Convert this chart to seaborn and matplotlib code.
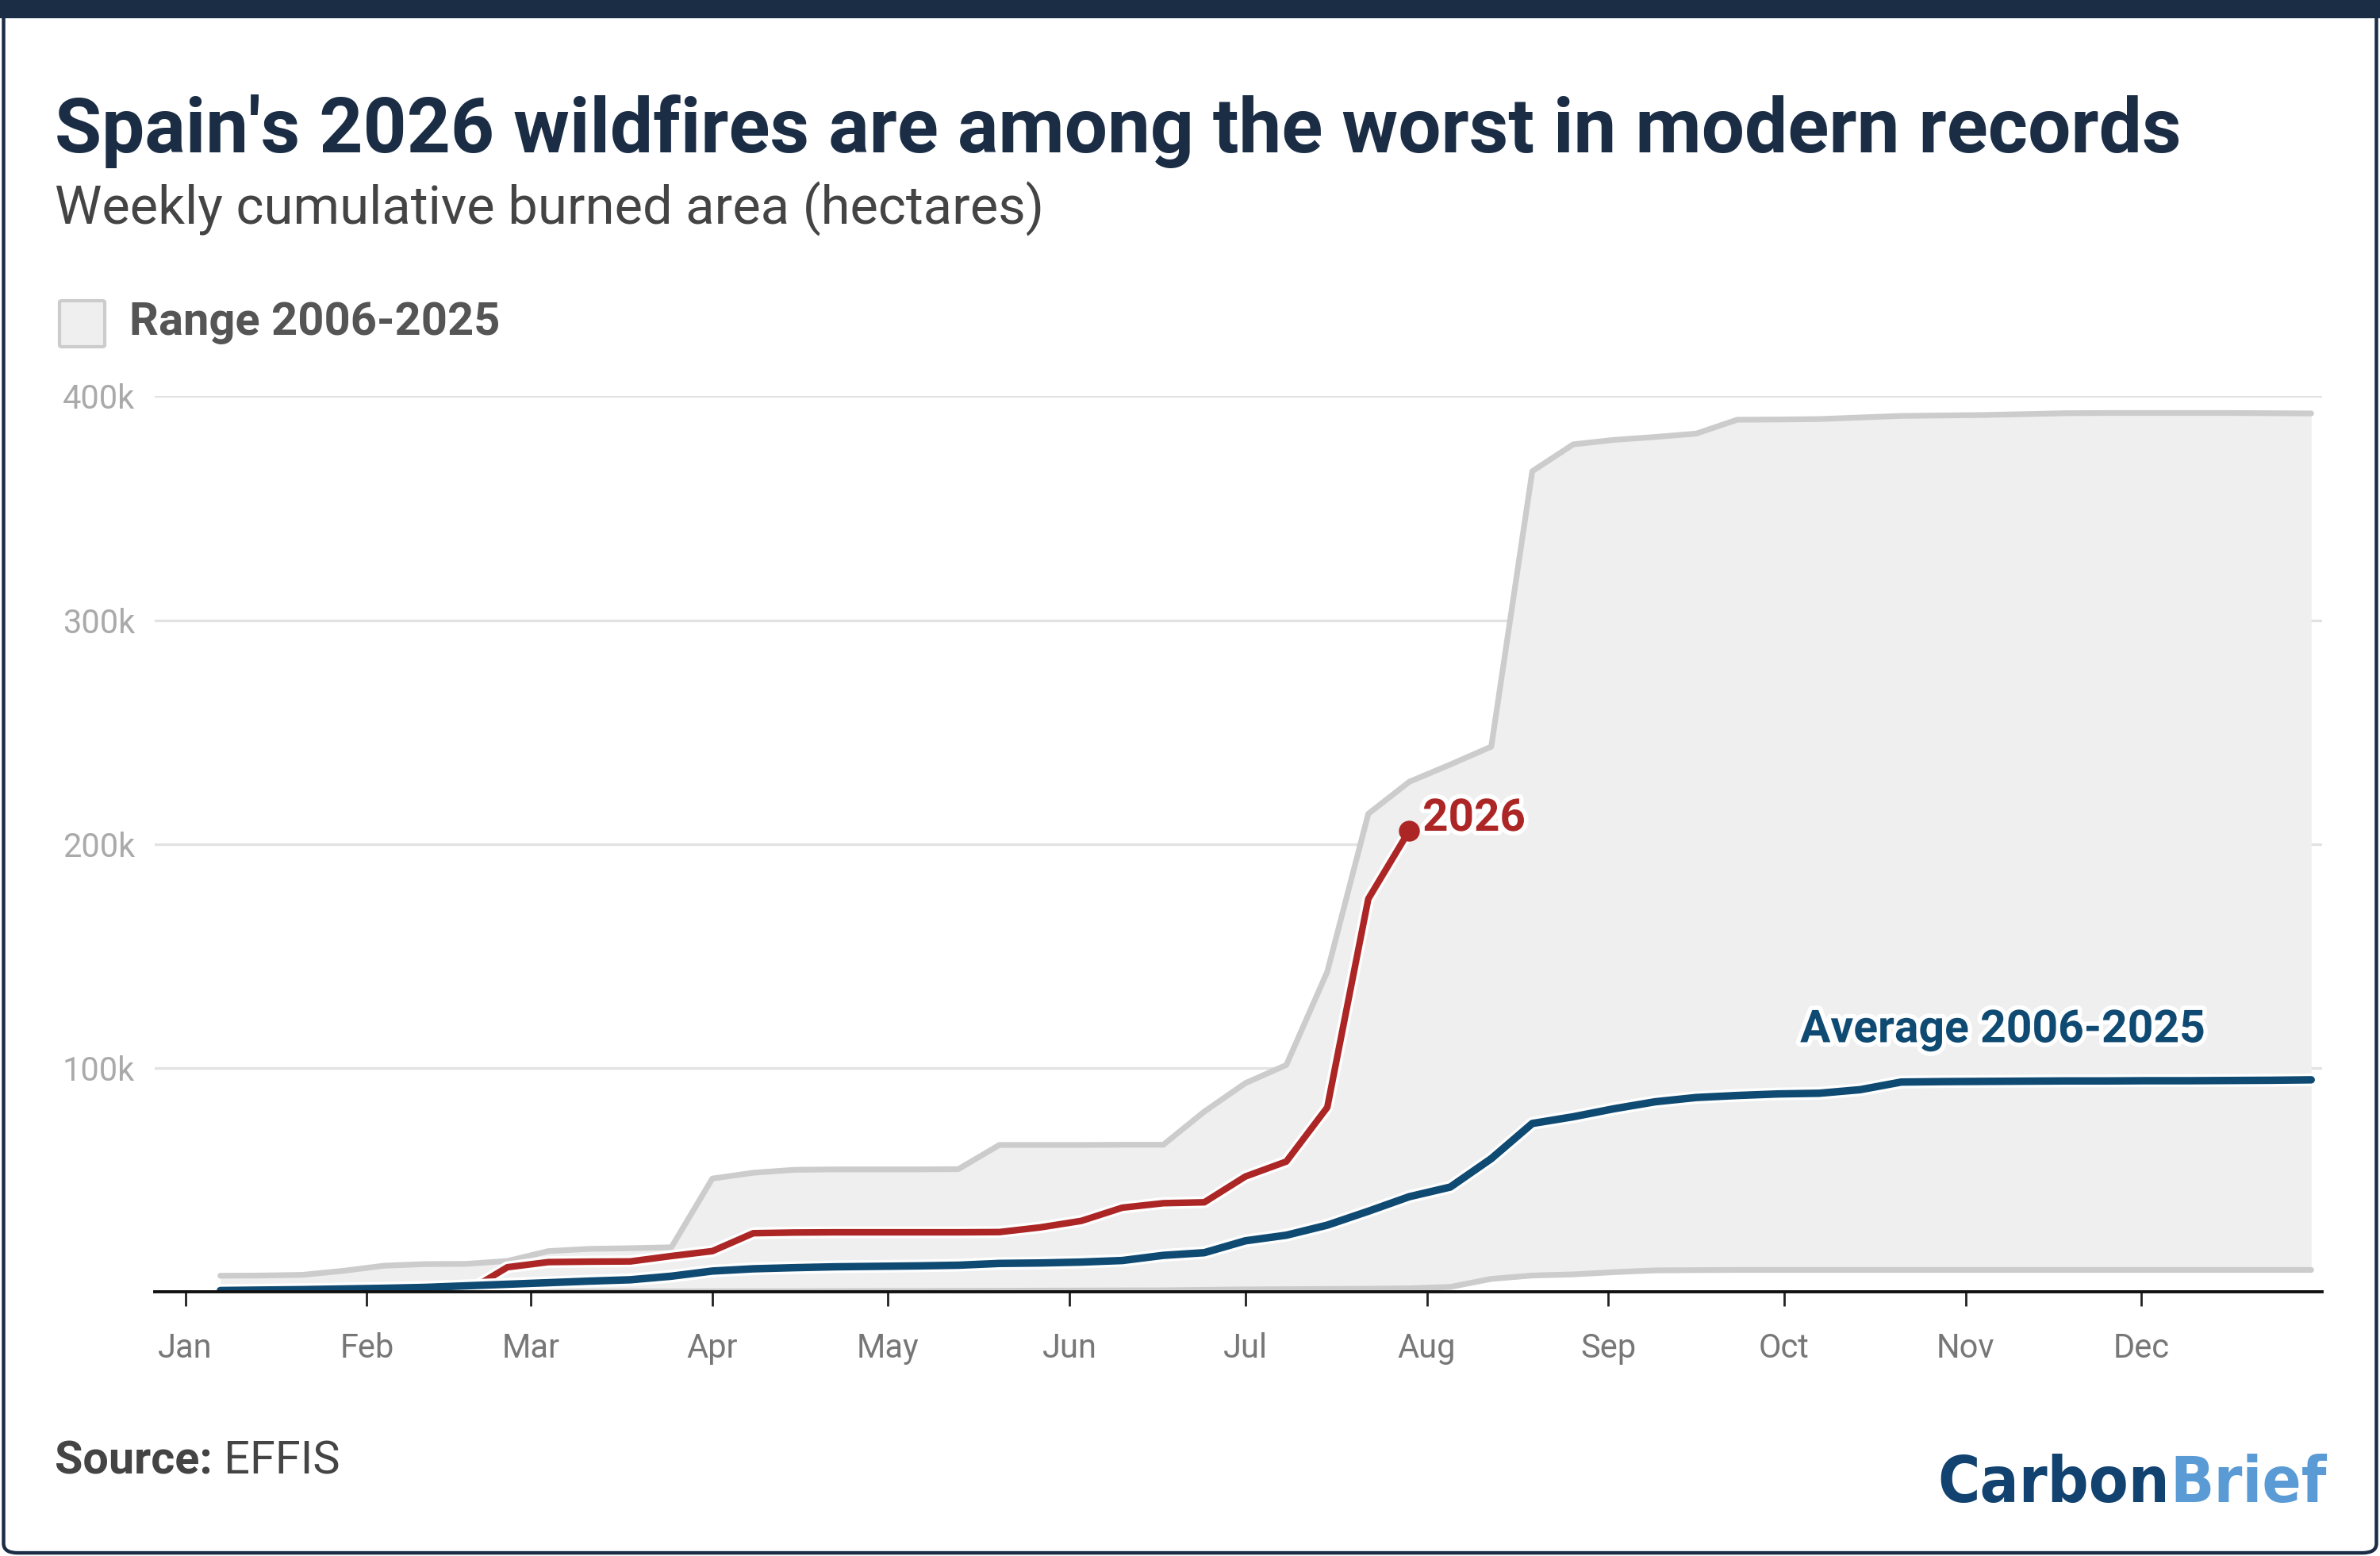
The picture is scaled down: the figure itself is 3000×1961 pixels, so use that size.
import numpy as np
import pandas as pd
import matplotlib
matplotlib.use('Agg')
import matplotlib.pyplot as plt
import matplotlib.dates as mdates
import matplotlib.patheffects as pe
from matplotlib.patches import FancyBboxPatch
from matplotlib import font_manager
import seaborn as sns

# Weekly cumulative burned area, thousand hectares
weeks = pd.date_range('2026-01-07', periods=52, freq='7D')

range_upper = [7.2, 7.3, 7.6, 9.4, 11.7, 12.4, 12.5, 13.8, 18.2, 19.2, 19.5, 19.9,
               50.6, 53.2, 54.5, 54.7, 54.7, 54.7, 54.8, 65.6, 65.6, 65.6, 65.7, 65.7,
               80.5, 93.2, 101.3, 143.0, 213.5, 227.8, 235.5, 243.5, 366.5, 378.5, 380.5, 381.8,
               383.3, 389.5, 389.6, 389.8, 390.5, 391.2, 391.4, 391.6, 392.0, 392.4, 392.5, 392.5,
               392.5, 392.5, 392.4, 392.3]
range_lower = [0.0, 0.0, 0.0, 0.0, 0.0, 0.05, 0.1, 0.1, 0.1, 0.15, 0.2, 0.2,
               0.25, 0.3, 0.3, 0.35, 0.4, 0.4, 0.45, 0.5, 0.55, 0.6, 0.65, 0.7,
               0.9, 1.1, 1.2, 1.3, 1.4, 1.6, 2.2, 5.8, 7.3, 7.8, 8.8, 9.6,
               9.7, 9.8, 9.8, 9.8, 9.8, 9.8, 9.8, 9.8, 9.8, 9.8, 9.8, 9.8,
               9.8, 9.8, 9.8, 9.8]
average = [0.6, 0.8, 1.0, 1.3, 1.6, 2.0, 2.7, 3.4, 4.1, 4.8, 5.4, 7.0,
           9.3, 10.3, 10.8, 11.2, 11.4, 11.6, 11.9, 12.7, 12.9, 13.3, 14.0, 16.3,
           17.5, 22.8, 25.3, 29.8, 36.0, 42.5, 46.8, 59.5, 75.2, 78.2, 81.8, 84.9,
           86.8, 87.7, 88.4, 88.7, 90.3, 93.7, 93.9, 94.0, 94.1, 94.2, 94.2, 94.3,
           94.3, 94.4, 94.5, 94.7]
# 2026 starts in the 5th week of the year
y2026_start = 4
y2026 = [0.0, 0.0, 0.0, 11.0, 13.3, 13.5, 13.6, 16.0, 18.2, 26.2, 26.5, 26.6,
         26.6, 26.6, 26.6, 26.7, 28.8, 31.7, 37.6, 39.6, 40.0, 51.5, 58.2, 82.4,
         175.5, 206.0]

month_labels = ['Jan', 'Feb', 'Mar', 'Apr', 'May', 'Jun', 'Jul', 'Aug', 'Sep', 'Oct', 'Nov', 'Dec']
y_ticks = [100, 200, 300, 400]
y_tick_labels = ['100k', '200k', '300k', '400k']

navy = '#1b2d45'
blue = '#0f4a73'
red = '#ad2626'
grey_line = '#cccccc'
grey_fill = '#efefef'

sns.set_style('white')
plt.rcParams['font.family'] = ['Roboto', 'DejaVu Sans']

W, H = 3000, 1961
fig = plt.figure(figsize=(15, H / 200), dpi=200)

# card border and top bar
fig.patches.append(FancyBboxPatch((0.0015, 0.002), 0.997, 0.996, boxstyle='round,pad=0,rounding_size=0.006',
                                  transform=fig.transFigure, fc='white', ec=navy, lw=1.6, zorder=-2))
fig.patches.append(FancyBboxPatch((0.0, 1 - 23 / H), 1.0, 23 / H, boxstyle='square,pad=0',
                                  transform=fig.transFigure, fc=navy, ec=navy, lw=0, zorder=-1))

ax = fig.add_axes([102 / 1568, 1 - 851 / 1025, (1530 - 102) / 1568, (851 - 261) / 1025])
ax.patch.set_alpha(0)

up = np.array(range_upper) * 1000
lo = np.array(range_lower) * 1000
avg = np.array(average) * 1000
cur = np.array(y2026) * 1000
cur_weeks = weeks[y2026_start:y2026_start + len(cur)]

halo_blue = [pe.Stroke(linewidth=5.8, foreground='white'), pe.Normal()]
halo_red = [pe.Stroke(linewidth=5.4, foreground='white'), pe.Normal()]

ax.fill_between(weeks, lo, up, color=grey_fill, lw=0, zorder=1)
sns.lineplot(x=weeks, y=up, ax=ax, color=grey_line, lw=2.6, zorder=2)
sns.lineplot(x=weeks, y=lo, ax=ax, color=grey_line, lw=2.6, zorder=2)
sns.lineplot(x=cur_weeks, y=cur, ax=ax, color=red, lw=3.0, zorder=3, path_effects=halo_red)
sns.lineplot(x=weeks, y=avg, ax=ax, color=blue, lw=3.4, zorder=4, path_effects=halo_blue)
ax.plot(cur_weeks[-1:], cur[-1:], 'o', color=red, ms=8.5, zorder=5, clip_on=False)

# axes styling
jan1 = pd.Timestamp('2026-01-01')
ax.set_xlim(jan1 - pd.Timedelta(days=5.2), jan1 + pd.Timedelta(days=364.9))
ax.set_ylim(0, 400000)
ax.set_xticks(pd.date_range('2026-01-01', periods=12, freq='MS'))
ax.set_xticklabels(month_labels)
ax.set_yticks([v * 1000 for v in y_ticks])
ax.set_yticklabels(y_tick_labels)
ax.set_xlabel('')
ax.set_ylabel('')
ax.yaxis.grid(True, color='#e2e2e2', lw=1.2)
ax.xaxis.grid(False)
ax.set_axisbelow(True)
for s in ['left', 'right', 'top']:
    ax.spines[s].set_visible(False)
ax.spines['bottom'].set_color('#111111')
ax.spines['bottom'].set_linewidth(1.4)
ax.spines['bottom'].set_zorder(6)
ax.tick_params(axis='x', bottom=True, length=6.5, width=1.0, color='#222222', pad=12,
               labelsize=15, labelcolor='#777777')
ax.tick_params(axis='y', left=False, length=0, pad=9, labelsize=15, labelcolor='#aaaaaa')

renderer = fig.canvas.get_renderer()


def fit(texts, width_px):
    total = sum(t.get_window_extent(renderer).width for t in texts)
    for t in texts:
        t.set_fontsize(t.get_fontsize() * width_px / total)


# labels on the lines
lab26 = ax.annotate('2026', xy=(cur_weeks[-1], cur[-1]), xytext=(6, 5.5), textcoords='offset points',
                    color=red, fontsize=21, fontweight='bold', va='center', ha='left', zorder=7,
                    path_effects=[pe.withStroke(linewidth=4, foreground='white')])
fit([lab26], 130)
lab_avg = ax.text(jan1 + pd.Timedelta(days=310.3), 117000, 'Average 2006-2025', color=blue,
                  fontsize=21, fontweight='bold', ha='center', va='center', zorder=7,
                  path_effects=[pe.withStroke(linewidth=4, foreground='white')])
fit([lab_avg], 511)

# titles
title = fig.text(69 / W, 1 - 192 / H, "Spain's 2026 wildfires are among the worst in modern records",
                 fontsize=30, fontweight='bold', color=navy, ha='left', va='baseline')
fit([title], 2682)
sub = fig.text(69 / W, 1 - 283 / H, 'Weekly cumulative burned area (hectares)',
               fontsize=20, color='#444444', ha='left', va='baseline')
fit([sub], 1247)

# legend
fig.patches.append(FancyBboxPatch((75 / W, 1 - 437 / H), 57 / W, 58 / H,
                                  boxstyle='round,pad=0,rounding_size=0.001', transform=fig.transFigure,
                                  fc=grey_fill, ec='#cccccc', lw=1.5, zorder=2))
leg = fig.text(163 / W, 1 - 422 / H, 'Range 2006-2025', fontsize=18, fontweight='bold',
               color='#555555', ha='left', va='baseline')
fit([leg], 468)

# source
src1 = fig.text(69 / W, 1 - 1869 / H, 'Source:', fontsize=18, fontweight='bold',
                color='#444444', ha='left', va='bottom')
src2 = ax.annotate(' EFFIS', xy=(1, 0), xycoords=src1, fontsize=18, color='#444444',
                   ha='left', va='bottom', annotation_clip=False)
fit([src1, src2], 360)

# logo: prefer a condensed bold face if one is installed
logo_font = font_manager.FontProperties(family='Roboto', weight='black')
for f in font_manager.fontManager.ttflist:
    narrow = ('Narrow' in f.name or 'Condensed' in f.name or
              str(f.stretch) in ('condensed', 'semi-condensed', 'extra-condensed', 'ultra-condensed'))
    if narrow and f.weight in ('bold', 700, 800, 900, 'heavy', 'black') and f.style == 'normal':
        logo_font = font_manager.FontProperties(fname=f.fname)
        break
brief = fig.text(2933 / W, 1 - 1893 / H, 'Brief', fontproperties=logo_font, fontsize=34,
                 color='#5b9bd5', ha='right', va='baseline')
carbon = ax.annotate('Carbon', xy=(0, 0), xycoords=brief, fontproperties=logo_font, fontsize=34,
                     color='#12426f', ha='right', va='bottom', annotation_clip=False)
fit([brief, carbon], 490)

fig.savefig('out.png', dpi=200)
